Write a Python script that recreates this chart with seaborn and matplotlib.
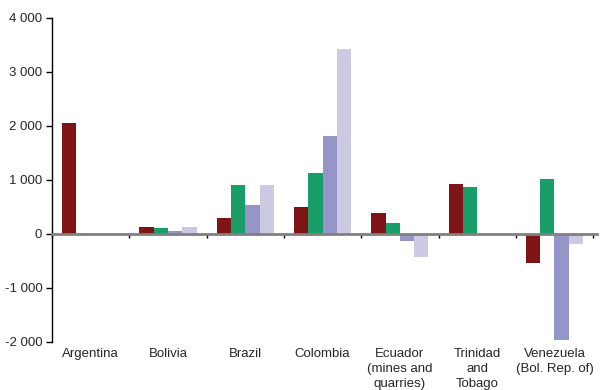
import numpy as np
import pandas as pd
import seaborn as sns
import matplotlib.pyplot as plt
from matplotlib.ticker import FuncFormatter

categories = ["Argentina", "Bolivia", "Brazil", "Colombia",
              "Ecuador\n(mines and\nquarries)", "Trinidad\nand\nTobago",
              "Venezuela\n(Bol. Rep. of)"]
series_names = ["Series 1", "Series 2", "Series 3", "Series 4"]
series_1 = [2060, 120, 285, 495, 385, 920, -540]
series_2 = [np.nan, 100, 900, 1125, 200, 865, 1015]
series_3 = [np.nan, 45, 525, 1810, -130, np.nan, -1960]
series_4 = [np.nan, 120, 900, 3430, -430, np.nan, -190]
colors = ["#7E1416", "#199E6A", "#9595C8", "#CCCAE3"]


def main():
    rows = []
    for name, vals in zip(series_names, [series_1, series_2, series_3, series_4]):
        for cat, v in zip(categories, vals):
            rows.append({"country": cat, "series": name, "value": v})
    df = pd.DataFrame(rows)

    sns.set_style("white")
    plt.rcParams["font.family"] = ["Liberation Sans", "DejaVu Sans"]

    fig = plt.figure(figsize=(6.02, 3.90), dpi=100)
    ax = fig.add_axes([52 / 602, 48.3 / 390, 545 / 602, 323.7 / 390])

    sns.barplot(data=df, x="country", y="value", hue="series", order=categories,
                hue_order=series_names, palette=colors, width=0.74,
                linewidth=0, saturation=1, legend=False, ax=ax)

    ax.set_ylim(-2000, 4000)
    ax.set_xlim(-0.5, 6.55)
    ax.set_yticks(np.arange(-2000, 4001, 1000))
    ax.yaxis.set_major_formatter(FuncFormatter(lambda v, p: f"{int(v):,}".replace(",", " ")))
    ax.tick_params(axis="y", direction="out", length=4, width=1, color="black",
                   labelsize=9.5, pad=3, left=True)

    # zero line with boundary ticks
    ax.spines["bottom"].set_position(("data", 0))
    ax.spines["bottom"].set_color("#808080")
    ax.spines["bottom"].set_linewidth(2)
    ax.set_xticks(np.arange(-0.5, len(categories), 1.0))
    ax.set_xticklabels([])
    ax.tick_params(axis="x", direction="out", length=3, width=1, color="black", bottom=True)

    ax.spines["left"].set_color("black")
    ax.spines["left"].set_linewidth(1)
    ax.spines["top"].set_visible(False)
    ax.spines["right"].set_visible(False)
    ax.set_xlabel("")
    ax.set_ylabel("")

    trans = ax.get_xaxis_transform()
    for i, cat in enumerate(categories):
        ax.text(i, -0.018, cat, transform=trans, ha="center", va="top",
                fontsize=9.5, linespacing=1.35)

    fig.savefig("out.png", dpi=100)


if __name__ == "__main__":
    main()
